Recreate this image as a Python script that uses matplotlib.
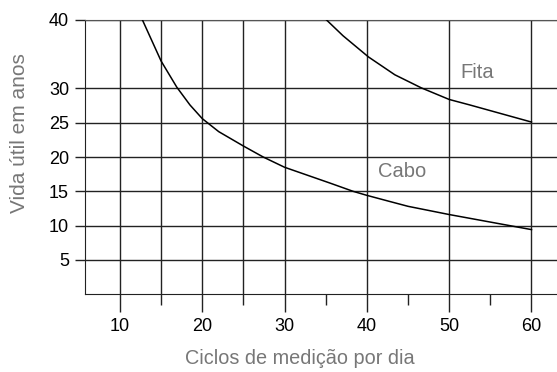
import matplotlib
matplotlib.use("Agg")
import matplotlib.pyplot as plt

# Data
cabo_x = [12.73, 15, 16.9, 18.5, 20, 22, 25, 27.4, 30, 35.5, 38.3, 40, 42.8, 45, 50, 55, 60]
cabo_y = [40, 34.0, 30.2, 27.6, 25.6, 23.7, 21.6, 20.0, 18.5, 16.2, 15.0, 14.4, 13.5, 12.8, 11.6, 10.5, 9.4]
fita_x = [35.1, 37.1, 40.2, 43.4, 46.6, 50, 52.5, 56.1, 60]
fita_y = [40, 37.7, 34.6, 32.0, 30.1, 28.4, 27.6, 26.4, 25.1]

x_major = [10, 20, 30, 40, 50, 60]
x_minor = [15, 25, 35, 45, 55]
x_grid = [10, 15, 20, 25, 30, 40, 50, 60]
y_ticks = [5, 10, 15, 20, 25, 30, 40]

plt.rcParams['font.family'] = ['Liberation Sans', 'DejaVu Sans']

W, H = 557, 372
fig = plt.figure(figsize=(W/100, H/100), dpi=100)
ax = fig.add_axes([85/W, 1-294/H, 1.0 - 85/W, (294-20)/H])

ax.set_xlim(5.75, 63.1)
ax.set_ylim(0, 40)

lc = '#222222'
for gx in x_grid:
    ax.axvline(gx, color=lc, lw=1.0, zorder=1)
for gy in y_ticks:
    ax.axhline(gy, color=lc, lw=1.0, zorder=1)

ax.plot(cabo_x, cabo_y, color='black', lw=1.1, zorder=3)
ax.plot(fita_x, fita_y, color='black', lw=1.1, zorder=3)

fig.text(477.5/W, 1-72.5/H, 'Fita', fontsize=14.5, color='#777777', ha='center', va='center')
fig.text(402.5/W, 1-171.7/H, 'Cabo', fontsize=14.5, color='#777777', ha='center', va='center')

ax.set_xticks(x_major)
ax.set_xticks(x_minor, minor=True)
ax.set_yticks(y_ticks)
ax.tick_params(axis='x', which='major', direction='out', length=13, width=1.0, color=lc,
               labelsize=13, pad=4, labelcolor='black')
ax.tick_params(axis='x', which='minor', direction='out', length=8, width=1.0, color=lc)
ax.tick_params(axis='y', which='major', direction='out', length=7.5, width=1.0, color=lc,
               labelsize=13, pad=4, labelcolor='black')

ax.spines['right'].set_visible(False)
ax.spines['top'].set_color('#555555')
ax.spines['left'].set_color(lc)
ax.spines['bottom'].set_color(lc)

fig.text(299.5/W, 1-358/H, 'Ciclos de medição por dia', fontsize=14.3, color='#777777',
         ha='center', va='center')
fig.text(20/W, 1-133/H, 'Vida útil em anos', fontsize=15, color='#777777',
         ha='center', va='center', rotation=90)

fig.savefig('out.png', dpi=100)
